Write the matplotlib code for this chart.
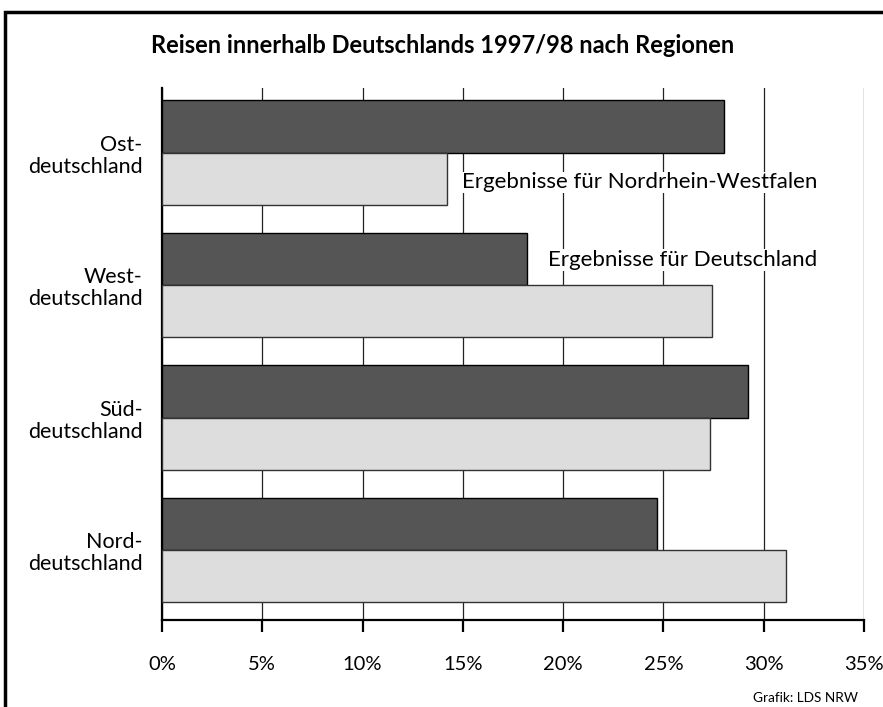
import matplotlib
matplotlib.use('Agg')
from matplotlib import pyplot as plt
from matplotlib.patches import Rectangle
import numpy as np

regions = ['Nord-\ndeutschland', 'Süd-\ndeutschland', 'West-\ndeutschland', 'Ost-\ndeutschland']
deutschland = [24.7, 29.2, 18.2, 28.0]
nrw = [31.1, 27.3, 27.4, 14.2]
ticks = [0, 5, 10, 15, 20, 25, 30, 35]
tick_labels = ['0%', '5%', '10%', '15%', '20%', '25%', '30%', '35%']

plt.rcParams['font.family'] = ['Lato', 'DejaVu Sans']

fig = plt.figure(figsize=(8.83, 7.07), dpi=100)
ax = fig.add_axes([0.1835, 0.1230, 0.795, 0.7525])

y = np.arange(len(regions))
h = 0.394
ax.barh(y + h / 2, deutschland, height=h, color='#555555', edgecolor='black', linewidth=1, zorder=3)
ax.barh(y - h / 2, nrw, height=h, color='#dddddd', edgecolor='#333333', linewidth=1, zorder=3)

ax.set_xlim(0, 35)
ax.set_ylim(-0.528, 3.487)
ax.set_xticks(ticks)
ax.set_xticklabels(tick_labels, fontsize=14.5)
ax.set_yticks(y)
ax.set_yticklabels(regions, fontsize=15.5, ha='right', multialignment='right', linespacing=1.15)
ax.tick_params(axis='y', length=0, pad=14)
ax.tick_params(axis='x', direction='out', length=8.6, width=1.6, pad=17.5, color='black')

ax.grid(axis='x', color='#222222', linewidth=0.9, zorder=0)
for s in ['top', 'right']:
    ax.spines[s].set_visible(False)
ax.spines['bottom'].set_linewidth(1.6)
ax.spines['left'].set_linewidth(1.6)

ax.text(32.65, 2.775, 'Ergebnisse für Nordrhein-Westfalen', fontsize=16, ha='right', va='center',
        zorder=4, bbox=dict(facecolor='white', edgecolor='none', pad=0.5))
ax.text(32.65, 2.19, 'Ergebnisse für Deutschland', fontsize=16, ha='right', va='center',
        zorder=4, bbox=dict(facecolor='white', edgecolor='none', pad=0.5))

fig.text(0.501, 0.936, 'Reisen innerhalb Deutschlands 1997/98 nach Regionen',
         fontsize=17, fontweight='bold', ha='center', va='center')
fig.text(0.972, 0.013, 'Grafik: LDS NRW', fontsize=9.8, ha='right', va='center')

fig.patches.append(Rectangle((5 / 883, -0.1), 2, 1 - 12 / 707 + 0.1, transform=fig.transFigure,
                             fill=False, edgecolor='black', linewidth=2.5))

fig.savefig('out.png', dpi=100)
